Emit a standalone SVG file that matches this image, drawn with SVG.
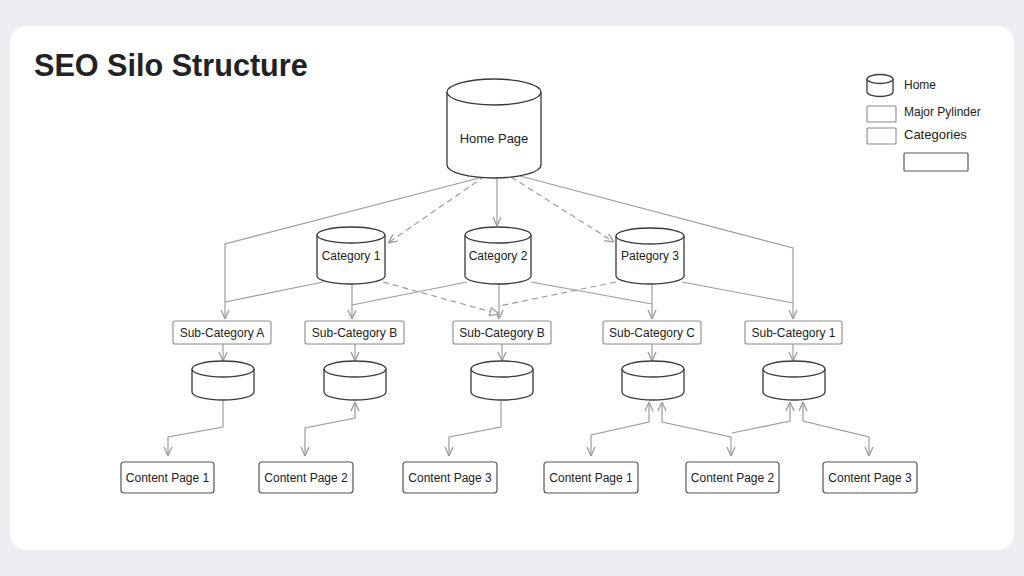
<svg xmlns="http://www.w3.org/2000/svg" width="1024" height="576" viewBox="0 0 1024 576">
<defs>
<style>
.txt{font-family:"Liberation Sans",Arial,sans-serif;fill:#222;}
.lbl{font-size:12px;text-anchor:middle;}
.cyl{fill:#fff;stroke:#3a3a3a;stroke-width:1.3;}
.sub{fill:#fff;stroke:#8a8a8a;stroke-width:1.1;}
.cp{fill:#fff;stroke:#555;stroke-width:1.2;}
.con{fill:none;stroke:#9c9c9c;stroke-width:1.2;}
.dash{stroke-dasharray:6,4;}
</style>
<marker id="arr" viewBox="0 0 10 10" refX="10" refY="5" markerWidth="10" markerHeight="10" markerUnits="userSpaceOnUse" orient="auto-start-reverse">
<path d="M1,1 L10,5 L1,9" fill="none" stroke="#9c9c9c" stroke-width="1.3"/>
</marker>
<marker id="tri" viewBox="0 0 10 10" refX="10" refY="5" markerWidth="10" markerHeight="10" markerUnits="userSpaceOnUse" orient="auto">
<path d="M1,1 L10,5 L1,9 Z" fill="#fff" stroke="#9c9c9c" stroke-width="1.2"/>
</marker>
</defs>
<rect x="0" y="0" width="1024" height="576" fill="#eceef1"/>
<rect x="10" y="26" width="1004" height="524" rx="16" fill="#fff"/>
<text class="txt" x="34" y="76" font-size="30.6" font-weight="bold" fill="#1a1a1a">SEO Silo Structure</text>

<g id="connectors">
<path class="con" d="M483,177 L225,244 L225,319" marker-end="url(#arr)"/>
<path class="con" d="M497,178 L497,226" marker-end="url(#arr)"/>
<path class="con" d="M520,176 L793,248 L793,319" marker-end="url(#arr)"/>
<path class="con" d="M323,282 L225,302"/>
<path class="con" d="M352,284 L352,319" marker-end="url(#arr)"/>
<path class="con" d="M467,282 L352,305"/>
<path class="con" d="M499,284 L499,319" marker-end="url(#arr)"/>
<path class="con" d="M531,282 L652,304"/>
<path class="con" d="M652,284 L652,319" marker-end="url(#arr)"/>
<path class="con" d="M682,282 L793,303"/>
<path class="con dash" d="M485,176 L388,243" marker-end="url(#arr)"/>
<path class="con dash" d="M511,177 L614,242" marker-end="url(#arr)"/>
<path class="con dash" d="M383,282 L499,314" marker-end="url(#tri)"/>
<path class="con dash" d="M616,282 L499,306"/>
<path class="con" d="M223,344 L223,361" marker-end="url(#arr)"/>
<path class="con" d="M355,344 L355,361" marker-end="url(#arr)"/>
<path class="con" d="M502,344 L502,361" marker-end="url(#arr)"/>
<path class="con" d="M652,344 L652,361" marker-end="url(#arr)"/>
<path class="con" d="M793,344 L793,361" marker-end="url(#arr)"/>
<path class="con" d="M223,401 L223,427 L168,437 L168,456" marker-end="url(#arr)"/>
<path class="con" d="M355,402 L355,418 L305,428 L305,456" marker-start="url(#arr)" marker-end="url(#arr)"/>
<path class="con" d="M501,401 L501,427 L449,437 L449,456" marker-end="url(#arr)"/>
<path class="con" d="M649,402 L649,422 L591,435 L591,456" marker-start="url(#arr)" marker-end="url(#arr)"/>
<path class="con" d="M662,402 L662,422 L731,437 L731,456" marker-start="url(#arr)" marker-end="url(#arr)"/>
<path class="con" d="M790,402 L790,421 L732,433" marker-start="url(#arr)"/>
<path class="con" d="M803,402 L803,421 L869,437 L869,456" marker-start="url(#arr)" marker-end="url(#arr)"/>
</g>

<g id="home">
<path class="cyl" d="M447,92 L447,165 A47,13 0 0 0 541,165 L541,92"/>
<ellipse class="cyl" cx="494" cy="92" rx="47" ry="13"/>
<text class="txt" x="494" y="143" font-size="13" text-anchor="middle">Home Page</text>
</g>

<g id="cat1">
<path class="cyl" d="M317,235 L317,276 A34,8 0 0 0 385,276 L385,235"/>
<ellipse class="cyl" cx="351" cy="235" rx="34" ry="8"/>
<text class="txt lbl" x="351" y="260">Category 1</text>
</g>
<g id="cat2">
<path class="cyl" d="M465,235 L465,276 A33,8 0 0 0 531,276 L531,235"/>
<ellipse class="cyl" cx="498" cy="235" rx="33" ry="8"/>
<text class="txt lbl" x="498" y="260">Category 2</text>
</g>
<g id="cat3">
<path class="cyl" d="M616,236 L616,276 A34,8 0 0 0 684,276 L684,236"/>
<ellipse class="cyl" cx="650" cy="236" rx="34" ry="8"/>
<text class="txt lbl" x="650" y="260">Pategory 3</text>
</g>

<g id="subA"><rect class="sub" x="173" y="321" width="98" height="23" rx="2"/><text class="txt lbl" x="222" y="337">Sub-Category A</text></g>
<g id="subB"><rect class="sub" x="305" y="321" width="99" height="23" rx="2"/><text class="txt lbl" x="354.5" y="337">Sub-Category B</text></g>
<g id="subB2"><rect class="sub" x="453" y="321" width="98" height="23" rx="2"/><text class="txt lbl" x="502" y="337">Sub-Category B</text></g>
<g id="subC"><rect class="sub" x="603" y="321" width="98" height="23" rx="2"/><text class="txt lbl" x="652" y="337">Sub-Category C</text></g>
<g id="sub1"><rect class="sub" x="745" y="321" width="97" height="23" rx="2"/><text class="txt lbl" x="793.5" y="337">Sub-Category 1</text></g>

<g id="cylA"><path class="cyl" d="M192,369 L192,392 A31,8 0 0 0 254,392 L254,369"/><ellipse class="cyl" cx="223" cy="369" rx="31" ry="8"/></g>
<g id="cylB"><path class="cyl" d="M324,369 L324,392 A31,8 0 0 0 386,392 L386,369"/><ellipse class="cyl" cx="355" cy="369" rx="31" ry="8"/></g>
<g id="cylB2"><path class="cyl" d="M471,369 L471,392 A31,8 0 0 0 533,392 L533,369"/><ellipse class="cyl" cx="502" cy="369" rx="31" ry="8"/></g>
<g id="cylC"><path class="cyl" d="M622,369 L622,392 A31,8 0 0 0 684,392 L684,369"/><ellipse class="cyl" cx="653" cy="369" rx="31" ry="8"/></g>
<g id="cyl1"><path class="cyl" d="M763,369 L763,392 A31,8 0 0 0 825,392 L825,369"/><ellipse class="cyl" cx="794" cy="369" rx="31" ry="8"/></g>

<g id="cp1"><rect class="cp" x="121" y="462" width="93" height="31" rx="3"/><text class="txt lbl" x="167.5" y="482">Content Page 1</text></g>
<g id="cp2"><rect class="cp" x="259" y="462" width="94" height="31" rx="3"/><text class="txt lbl" x="306" y="482">Content Page 2</text></g>
<g id="cp3"><rect class="cp" x="403" y="462" width="94" height="31" rx="3"/><text class="txt lbl" x="450" y="482">Content Page 3</text></g>
<g id="cp1b"><rect class="cp" x="544" y="462" width="94" height="31" rx="3"/><text class="txt lbl" x="591" y="482">Content Page 1</text></g>
<g id="cp2b"><rect class="cp" x="686" y="462" width="93" height="31" rx="3"/><text class="txt lbl" x="732.5" y="482">Content Page 2</text></g>
<g id="cp3b"><rect class="cp" x="823" y="462" width="94" height="31" rx="3"/><text class="txt lbl" x="870" y="482">Content Page 3</text></g>

<g id="legend">
<path class="cyl" d="M867,79 L867,92 A13,4.5 0 0 0 893,92 L893,79" stroke-width="1"/>
<ellipse class="cyl" cx="880" cy="79" rx="13" ry="4.5" stroke-width="1"/>
<text class="txt" x="904" y="89" font-size="12">Home</text>
<rect class="sub" x="867" y="106" width="29" height="16" rx="1"/>
<text class="txt" x="904" y="116" font-size="12">Major Pylinder</text>
<rect class="sub" x="867" y="128" width="29" height="16" rx="1"/>
<text class="txt" x="904" y="139" font-size="13">Categories</text>
<rect class="cp" x="904" y="153" width="64" height="18" rx="1"/>
</g>
</svg>
